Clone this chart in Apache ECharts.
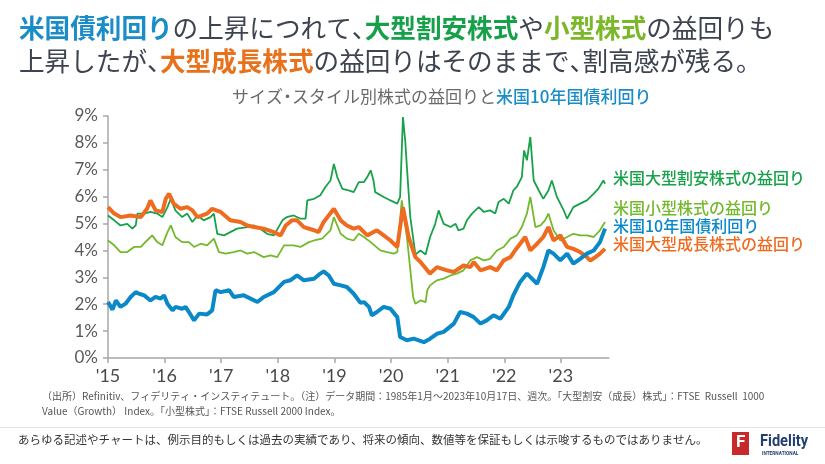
<!DOCTYPE html>
<html><head><meta charset="utf-8">
<script src="https://cdn.jsdelivr.net/npm/echarts@6/dist/echarts.min.js"></script>
<style>html,body{margin:0;padding:0;background:#fff}#c{width:825px;height:464px}</style>
</head><body><div id="c"></div>
<script>
// Year ticks
const yearTicks = [2015, 2016, 2017, 2018, 2019, 2020, 2021, 2022, 2023];

// US 10-year Treasury yield (%), [decimal year, value]
const treasury = [
[2015.00,2.08],[2015.08,1.80],[2015.14,2.14],[2015.22,1.90],[2015.31,2.02],[2015.40,2.27],[2015.49,2.45],[2015.55,2.39],
[2015.64,2.33],[2015.75,2.14],[2015.84,2.27],[2015.93,2.21],[2015.99,2.33],[2016.05,2.02],[2016.14,1.77],[2016.19,1.90],
[2016.31,1.83],[2016.37,1.90],[2016.43,1.71],[2016.52,1.40],[2016.61,1.65],[2016.75,1.62],[2016.84,1.77],[2016.90,2.52],
[2016.99,2.45],[2017.14,2.52],[2017.22,2.27],[2017.40,2.33],[2017.64,2.08],[2017.75,2.27],[2017.93,2.45],[2018.11,2.83],
[2018.22,2.89],[2018.34,3.07],[2018.46,2.89],[2018.64,2.95],[2018.75,3.14],[2018.81,3.22],[2018.90,3.07],[2018.99,2.76],
[2019.11,2.70],[2019.22,2.64],[2019.34,2.39],[2019.46,2.05],[2019.52,2.08],[2019.61,1.90],[2019.66,1.59],[2019.75,1.71],
[2019.87,1.90],[2019.99,1.83],[2020.11,1.52],[2020.16,0.78],[2020.28,0.66],[2020.40,0.72],[2020.58,0.59],[2020.69,0.72],
[2020.81,0.90],[2020.93,0.97],[2021.11,1.28],[2021.22,1.71],[2021.34,1.65],[2021.46,1.52],[2021.58,1.28],[2021.69,1.40],
[2021.81,1.59],[2021.93,1.46],[2022.08,1.90],[2022.16,2.33],[2022.28,2.83],[2022.40,3.14],[2022.58,2.76],[2022.69,3.38],
[2022.78,4.00],[2022.87,3.88],[2022.99,3.63],[2023.11,3.88],[2023.22,3.51],[2023.34,3.69],[2023.46,3.88],[2023.58,4.00],
[2023.69,4.31],[2023.78,4.81]
];

// US large-cap value earnings yield (%)
const largeValue = [
[2015.00,5.30],[2015.11,5.12],[2015.22,4.93],[2015.34,4.99],[2015.43,4.81],[2015.49,4.93],[2015.52,5.37],[2015.64,5.37],
[2015.75,5.43],[2015.87,5.37],[2015.96,5.24],[2016.05,5.61],[2016.11,5.92],[2016.19,5.49],[2016.31,5.24],[2016.40,5.37],
[2016.49,5.06],[2016.58,5.30],[2016.69,5.12],[2016.81,5.24],[2016.87,5.37],[2016.93,4.62],[2017.05,4.56],[2017.16,4.68],
[2017.28,4.81],[2017.46,4.87],[2017.58,4.93],[2017.69,4.81],[2017.81,4.62],[2017.93,4.56],[2018.08,5.12],[2018.16,5.24],
[2018.28,5.30],[2018.40,5.18],[2018.49,5.18],[2018.52,5.86],[2018.64,5.92],[2018.75,6.05],[2018.84,6.36],[2018.93,6.60],
[2018.99,7.22],[2019.05,6.73],[2019.14,6.29],[2019.25,6.23],[2019.34,6.17],[2019.43,6.54],[2019.52,6.54],[2019.58,6.73],
[2019.64,6.98],[2019.69,6.60],[2019.72,6.17],[2019.87,5.99],[2019.99,5.86],[2020.11,5.74],[2020.16,5.99],[2020.21,8.96],
[2020.25,8.09],[2020.28,7.10],[2020.34,5.24],[2020.43,3.85],[2020.52,4.00],[2020.61,3.85],[2020.69,4.50],[2020.78,4.99],
[2020.84,5.49],[2020.93,4.99],[2021.05,4.87],[2021.14,4.99],[2021.19,4.75],[2021.28,4.81],[2021.34,5.12],[2021.43,5.37],
[2021.55,5.61],[2021.64,5.43],[2021.75,5.49],[2021.84,5.37],[2021.90,5.80],[2021.99,5.92],[2022.08,5.74],[2022.16,6.23],
[2022.22,6.36],[2022.31,6.73],[2022.35,7.72],[2022.40,7.35],[2022.46,8.22],[2022.52,6.60],[2022.61,6.23],[2022.69,5.92],
[2022.78,6.23],[2022.84,6.60],[2022.93,5.99],[2023.05,5.49],[2023.11,5.18],[2023.22,5.61],[2023.34,5.74],[2023.46,5.86],
[2023.58,6.11],[2023.66,6.29],[2023.75,6.60],[2023.78,6.48]
];

// US small-cap earnings yield (%)
const smallCap = [
[2015.00,4.37],[2015.11,4.19],[2015.22,3.94],[2015.34,3.94],[2015.46,4.13],[2015.58,4.13],[2015.69,4.37],[2015.78,4.56],
[2015.87,4.31],[2015.96,4.19],[2016.05,4.68],[2016.11,4.93],[2016.19,4.50],[2016.31,4.31],[2016.43,4.31],[2016.52,4.13],
[2016.64,4.25],[2016.75,4.19],[2016.87,4.44],[2016.96,3.94],[2017.08,3.88],[2017.22,3.94],[2017.34,4.00],[2017.46,3.88],
[2017.58,3.94],[2017.75,3.75],[2017.87,3.82],[2017.99,3.75],[2018.11,4.19],[2018.28,4.19],[2018.40,4.13],[2018.55,4.31],
[2018.64,4.37],[2018.78,4.44],[2018.93,4.75],[2018.99,5.24],[2019.11,4.62],[2019.22,4.44],[2019.34,4.37],[2019.43,4.62],
[2019.52,4.50],[2019.64,4.31],[2019.81,4.00],[2019.93,3.94],[2020.05,3.88],[2020.11,3.94],[2020.19,5.86],[2020.28,4.50],
[2020.39,2.27],[2020.43,2.02],[2020.52,2.14],[2020.61,2.08],[2020.64,2.52],[2020.69,2.70],[2020.81,2.89],[2020.93,2.95],
[2021.05,3.07],[2021.16,3.14],[2021.28,3.26],[2021.40,3.63],[2021.52,3.75],[2021.64,3.63],[2021.75,3.69],[2021.87,4.00],
[2021.99,4.13],[2022.11,4.44],[2022.22,4.56],[2022.31,4.87],[2022.40,5.37],[2022.46,5.99],[2022.55,4.87],[2022.64,4.93],
[2022.72,5.12],[2022.78,5.37],[2022.87,4.75],[2022.99,4.37],[2023.11,4.50],[2023.22,4.62],[2023.34,4.56],[2023.46,4.56],
[2023.58,4.50],[2023.69,4.75],[2023.78,5.06]
];

// US large-cap growth earnings yield (%)
const largeGrowth = [
[2015.00,5.61],[2015.11,5.37],[2015.22,5.24],[2015.40,5.30],[2015.58,5.24],[2015.69,5.55],[2015.75,5.86],[2015.84,5.49],
[2015.96,5.43],[2016.02,5.92],[2016.08,6.11],[2016.16,5.74],[2016.28,5.55],[2016.40,5.61],[2016.49,5.49],[2016.58,5.24],
[2016.75,5.37],[2016.84,5.55],[2016.99,5.43],[2017.16,5.12],[2017.34,5.06],[2017.46,4.93],[2017.58,4.87],[2017.75,4.81],
[2017.93,4.68],[2018.05,4.56],[2018.14,4.93],[2018.25,5.12],[2018.34,5.12],[2018.46,4.87],[2018.64,4.75],[2018.72,4.68],
[2018.81,5.06],[2018.99,5.55],[2019.11,5.12],[2019.22,4.93],[2019.34,4.81],[2019.43,4.87],[2019.58,4.56],[2019.75,4.75],
[2019.87,4.56],[2019.99,4.37],[2020.11,4.13],[2020.21,5.60],[2020.31,4.50],[2020.43,3.75],[2020.52,3.57],[2020.64,3.26],
[2020.69,3.14],[2020.81,3.38],[2020.99,3.26],[2021.11,3.20],[2021.28,3.44],[2021.40,3.38],[2021.46,3.57],[2021.58,3.26],
[2021.75,3.38],[2021.87,3.26],[2021.99,3.63],[2022.11,3.75],[2022.19,4.00],[2022.28,4.25],[2022.37,4.50],[2022.46,4.00],
[2022.58,4.25],[2022.69,4.50],[2022.78,4.87],[2022.87,4.37],[2022.99,4.56],[2023.11,4.13],[2023.22,4.06],[2023.34,3.94],
[2023.46,3.75],[2023.52,3.62],[2023.61,3.75],[2023.69,3.88],[2023.78,4.06]
];

const C_BLUE = '#0a88c8', C_DG = '#17a24a', C_LG = '#74b82c', C_OR = '#ee6b1f', C_TXT = '#3d4450';
const JP = '"Noto Sans CJK JP", "Noto Sans", sans-serif';
const TF = 25.6;
const fB = 'bold ' + TF + 'px ' + JP, fN = 'normal ' + TF + 'px ' + JP;

const chart = echarts.init(document.getElementById('c'), null, {renderer: 'canvas'});
chart.setOption({
  animation: false,
  backgroundColor: '#fff',
  grid: {left: 108, right: 216, top: 116, bottom: 106, containLabel: false},
  xAxis: {
    type: 'value', min: 2015, max: 2023.85,
    splitLine: {show: false},
    axisLine: {lineStyle: {color: '#a8a8a8', width: 1.5}},
    axisTick: {show: true, length: 5, customValues: yearTicks, lineStyle: {color: '#a8a8a8', width: 1.5}},
    axisLabel: {customValues: yearTicks, formatter: v => "'" + String(v).slice(2), color: '#4a4a4a', fontSize: 18, fontFamily: 'Lato, "Open Sans", sans-serif', margin: 9}
  },
  yAxis: {
    type: 'value', min: 0, max: 9, interval: 1,
    splitLine: {show: false},
    axisLine: {show: true, lineStyle: {color: '#a8a8a8', width: 1.5}},
    axisTick: {show: true, length: 5, lineStyle: {color: '#a8a8a8', width: 1.5}},
    axisLabel: {formatter: '{value}%', color: '#5a5a5a', fontSize: 17, fontFamily: 'Lato, "Open Sans", sans-serif', margin: 10}
  },
  series: [
    {name: '米国小型株式の益回り', type: 'line', data: smallCap, showSymbol: false, lineStyle: {color: C_LG, width: 1.8}, itemStyle: {color: C_LG}},
    {name: '米国大型割安株式の益回り', type: 'line', data: largeValue, showSymbol: false, lineStyle: {color: C_DG, width: 1.8}, itemStyle: {color: C_DG}},
    {name: '米国大型成長株式の益回り', type: 'line', data: largeGrowth, showSymbol: false, lineStyle: {color: C_OR, width: 4}, itemStyle: {color: C_OR}},
    {name: '米国10年国債利回り', type: 'line', data: treasury, showSymbol: false, lineStyle: {color: C_BLUE, width: 4}, itemStyle: {color: C_BLUE}}
  ],
  graphic: [
    {type: 'text', left: 19, top: 15, style: {
      text: '{b|米国債利回り}{k|の上昇につれて}{p|、}{g|大型割安株式}{k|や}{l|小型株式}{k|の益回りも}',
      font: fN,
      rich: {b: {fill: '#1a8cc6', font: fB}, k: {fill: C_TXT, font: fN}, p: {fill: C_TXT, font: fN, width: 13}, g: {fill: '#16a04a', font: fB}, l: {fill: '#7ab82a', font: fB}}
    }},
    {type: 'text', left: 19, top: 48, style: {
      text: '{k|上昇したが}{p|、}{o|大型成長株式}{k|の益回りはそのままで}{p|、}{k|割高感が残る}{p|。}',
      font: fN,
      rich: {k: {fill: C_TXT, font: fN}, p: {fill: C_TXT, font: fN, width: 13}, o: {fill: '#e8711c', font: fB}}
    }},
    {type: 'text', left: 232, top: 88, style: {
      text: '{g|サイズ}{d|・}{g|スタイル別株式の益回りと}{b|米国10年国債利回り}',
      font: '17px ' + JP,
      rich: {g: {fill: '#6a6a6a', font: '17px ' + JP}, d: {fill: '#6a6a6a', font: '17px ' + JP, width: 9, align: 'center'}, b: {fill: '#1a8cc6', font: '500 17px ' + JP}}
    }},
    {type: 'text', left: 613, top: 170, style: {text: '米国大型割安株式の益回り', fill: C_DG, font: '500 16px ' + JP}},
    {type: 'text', left: 613, top: 200, style: {text: '米国小型株式の益回り', fill: C_LG, font: '500 16px ' + JP}},
    {type: 'text', left: 613, top: 218, style: {text: '米国10年国債利回り', fill: C_BLUE, font: '500 16px ' + JP}},
    {type: 'text', left: 613, top: 236, style: {text: '米国大型成長株式の益回り', fill: C_OR, font: '500 16px ' + JP}},
    {type: 'text', left: 42, top: 391, style: {text: '（出所）Refinitiv、フィデリティ・インスティテュート。（注）データ期間：1985年1月～2023年10月17日、週次。「大型割安（成長）株式」：FTSE  Russell  1000', fill: '#555', font: '10px ' + JP}},
    {type: 'text', left: 42, top: 406, style: {text: 'Value（Growth） Index。「小型株式」：FTSE Russell 2000 Index。', fill: '#555', font: '10px ' + JP}},
    {type: 'rect', shape: {x: 0, y: 427, width: 825, height: 1}, style: {fill: '#e4e4e4'}},
    {type: 'text', left: 18, top: 434, style: {text: 'あらゆる記述やチャートは、例示目的もしくは過去の実績であり、将来の傾向、数値等を保証もしくは示唆するものではありません。', fill: '#333', font: '11.5px ' + JP}},
    {type: 'rect', shape: {x: 732, y: 432, width: 17, height: 23}, style: {fill: '#c62a2a'}},
    {type: 'text', left: 736, top: 434, style: {text: 'F', fill: '#fff', font: 'bold 17px Roboto, sans-serif'}},
    {type: 'text', x: 760, y: 433, scaleX: 0.86, style: {text: 'Fidelity', fill: '#233e72', font: 'bold 17px Roboto, sans-serif'}},
    {type: 'text', x: 762, y: 451, scaleX: 0.95, style: {text: 'INTERNATIONAL', fill: '#233e72', font: 'bold 5px Roboto, sans-serif'}}
  ]
});
</script></body></html>
